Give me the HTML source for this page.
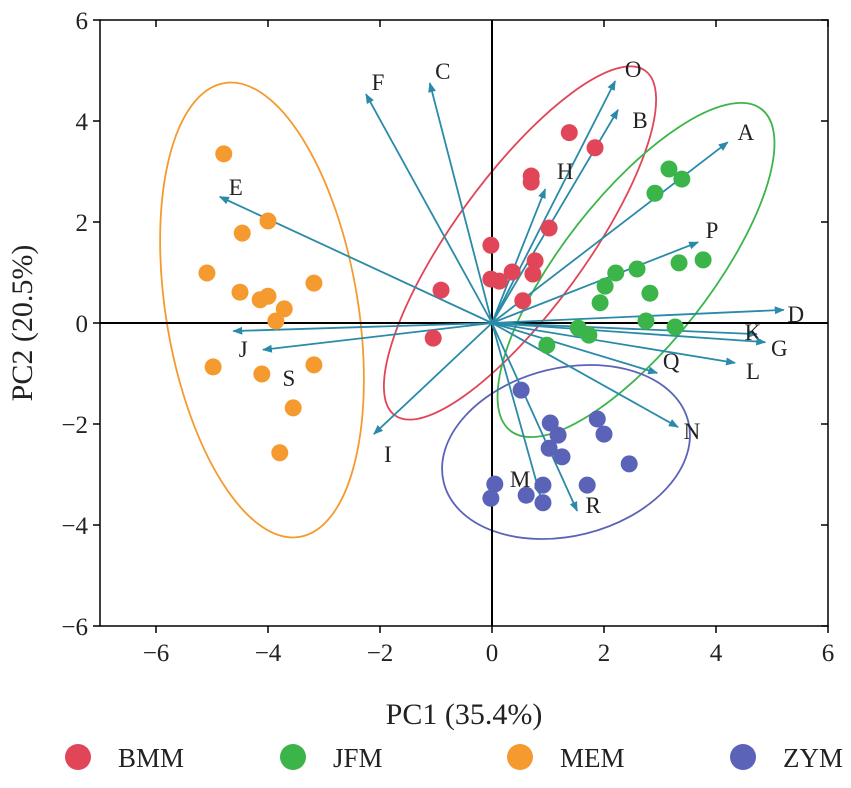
<!DOCTYPE html>
<html><head><meta charset="utf-8">
<style>
body{margin:0;background:#fff;}
svg text{font-family:"Liberation Serif",serif;fill:#222;}
</style></head>
<body>
<svg id="chart" width="851" height="783" viewBox="0 0 851 783" xmlns="http://www.w3.org/2000/svg">
<g id="ellipses"></g>
<g id="axes"></g>
<g id="arrows"></g>
<g id="points"></g>
<g id="legend"></g>
</svg>
<script>
const xTicks=[-6,-4,-2,0,2,4,6];
const yTicks=[-6,-4,-2,0,2,4,6];
const groups=["BMM","JFM","MEM","ZYM"];
const colors=["#e04657","#3bb54a","#f59a2f","#5a63b8"];
const bmmX=[1.38,1.84,0.70,0.70,1.02,-0.02,-0.02,0.13,0.36,0.77,0.73,0.55,-0.91,-1.05];
const bmmY=[3.77,3.47,2.91,2.79,1.88,1.54,0.87,0.83,1.01,1.23,0.97,0.44,0.65,-0.30];
const jfmX=[3.16,3.39,2.91,3.77,3.34,2.59,2.21,2.02,2.82,1.93,2.75,3.27,1.54,1.73,0.98];
const jfmY=[3.05,2.85,2.57,1.25,1.19,1.07,0.99,0.73,0.59,0.40,0.04,-0.08,-0.10,-0.24,-0.44];
const memX=[-4.79,-4.0,-4.46,-5.09,-4.5,-4.0,-4.14,-3.71,-3.18,-3.86,-4.98,-4.11,-3.18,-3.55,-3.79];
const memY=[3.35,2.02,1.78,0.99,0.61,0.53,0.46,0.28,0.79,0.04,-0.87,-1.01,-0.83,-1.68,-2.57];
const zymX=[0.52,1.04,1.18,1.02,1.25,1.88,2.0,2.45,1.70,0.05,-0.02,0.61,0.91,0.91];
const zymY=[-1.33,-1.98,-2.22,-2.48,-2.65,-1.90,-2.20,-2.79,-3.21,-3.19,-3.47,-3.41,-3.21,-3.56];
const arrowNames=["A","B","O","H","P","D","K","G","L","Q","N","R","M","I","S","J","E","F","C"];
const arrowX=[4.21,2.25,2.20,0.95,3.68,5.21,4.73,4.88,4.34,2.95,3.32,1.52,0.86,-2.11,-4.09,-4.62,-4.86,-2.25,-1.11];
const arrowY=[3.58,4.22,4.79,2.65,1.60,0.26,-0.22,-0.38,-0.79,-0.99,-2.06,-3.72,-3.41,-2.20,-0.53,-0.16,2.50,4.53,4.75];
const labelDX=[18,22,18,20,14,12,-4,14,18,14,14,16,-20,14,26,10,16,12,13];
const labelDY=[-10,10,-12,-18,-12,4,-2,6,8,-12,4,-6,-16,20,28,18,-10,-12,-12];

const X0=100,X1=828,XMIN=-7,XMAX=6,Y0=20,Y1=626,YMIN=-6,YMAX=6;
const sx=v=>X0+(v-XMIN)/(XMAX-XMIN)*(X1-X0);
const sy=v=>Y1-(v-YMIN)/(YMAX-YMIN)*(Y1-Y0);
const NS="http://www.w3.org/2000/svg";
function mk(tag,attrs,parent){const e=document.createElementNS(NS,tag);for(const k in attrs)e.setAttribute(k,attrs[k]);parent.appendChild(e);return e;}

const eg=document.getElementById('ellipses');
const ells=[[262,310,96,230,-9.4,2],[520,243,66,213,36,0],[636,270,74,204,38,1],[566,452,126,84,-14,3]];
ells.forEach(a=>{const e=mk('ellipse',{cx:a[0],cy:a[1],rx:a[2],ry:a[3],transform:`rotate(${a[4]} ${a[0]} ${a[1]})`,fill:'none',stroke:colors[a[5]],'stroke-width':1.8},eg);

});

const ag=document.getElementById('axes');
mk('rect',{x:X0,y:Y0,width:X1-X0,height:Y1-Y0,fill:'none',stroke:'#000','stroke-width':1.5},ag);
mk('line',{x1:sx(0),x2:sx(0),y1:Y0,y2:Y1,stroke:'#000','stroke-width':2},ag);
mk('line',{x1:X0,x2:X1,y1:sy(0),y2:sy(0),stroke:'#000','stroke-width':2},ag);
xTicks.forEach(t=>{const x=sx(t);
mk('line',{x1:x,x2:x,y1:Y1,y2:Y1+7,stroke:'#000','stroke-width':1.5},ag);
mk('line',{x1:x,x2:x,y1:Y0,y2:Y0+7,stroke:'#000','stroke-width':1.5},ag);
const tx=mk('text',{x:x,y:Y1+35,'text-anchor':'middle','font-size':25},ag);tx.textContent=(t<0?'\u2212'+(-t):t);

});
yTicks.forEach(t=>{const y=sy(t);
mk('line',{x1:X0-7,x2:X0,y1:y,y2:y,stroke:'#000','stroke-width':1.5},ag);
mk('line',{x1:X1-7,x2:X1,y1:y,y2:y,stroke:'#000','stroke-width':1.5},ag);
const tx=mk('text',{x:X0-12,y:y+9,'text-anchor':'end','font-size':25},ag);tx.textContent=(t<0?'\u2212'+(-t):t);

});
const xt=mk('text',{x:(X0+X1)/2,y:724,'text-anchor':'middle','font-size':30},ag);xt.textContent='PC1 (35.4%)';


const yt=mk('text',{x:0,y:0,'text-anchor':'middle','font-size':30,transform:`translate(32 ${(Y0+Y1)/2}) rotate(-90)`},ag);yt.textContent='PC2 (20.5%)';



const arg=document.getElementById('arrows');
const defs=mk('defs',{},arg);
const m=mk('marker',{id:'ah',markerWidth:10,markerHeight:8,refX:9,refY:4,orient:'auto',markerUnits:'userSpaceOnUse'},defs);
mk('path',{d:'M0,0 L10,4 L0,8 Z',fill:'#2a8aa8'},m);
arrowNames.forEach((n,i)=>{const x=sx(arrowX[i]),y=sy(arrowY[i]);
const l=mk('line',{x1:sx(0),y1:sy(0),x2:x,y2:y,stroke:'#2a8aa8','stroke-width':1.8,'marker-end':'url(#ah)'},arg);


const t=mk('text',{x:x+labelDX[i],y:y+labelDY[i]+8,'text-anchor':'middle','font-size':23},arg);t.textContent=n;

});

const pg=document.getElementById('points');
[[bmmX,bmmY],[jfmX,jfmY],[memX,memY],[zymX,zymY]].forEach((s,g)=>{s[0].forEach((v,i)=>{
const c=mk('circle',{cx:sx(v),cy:sy(s[1][i]),r:8.5,fill:colors[g]},pg);

});});

const lg=document.getElementById('legend');
const lx=[78,293,520,743];
groups.forEach((g,i)=>{
const c=mk('circle',{cx:lx[i],cy:757,r:13,fill:colors[i]},lg);


const t=mk('text',{x:lx[i]+40,y:767,'font-size':27},lg);t.textContent=g;

});
</script>
</body></html>
